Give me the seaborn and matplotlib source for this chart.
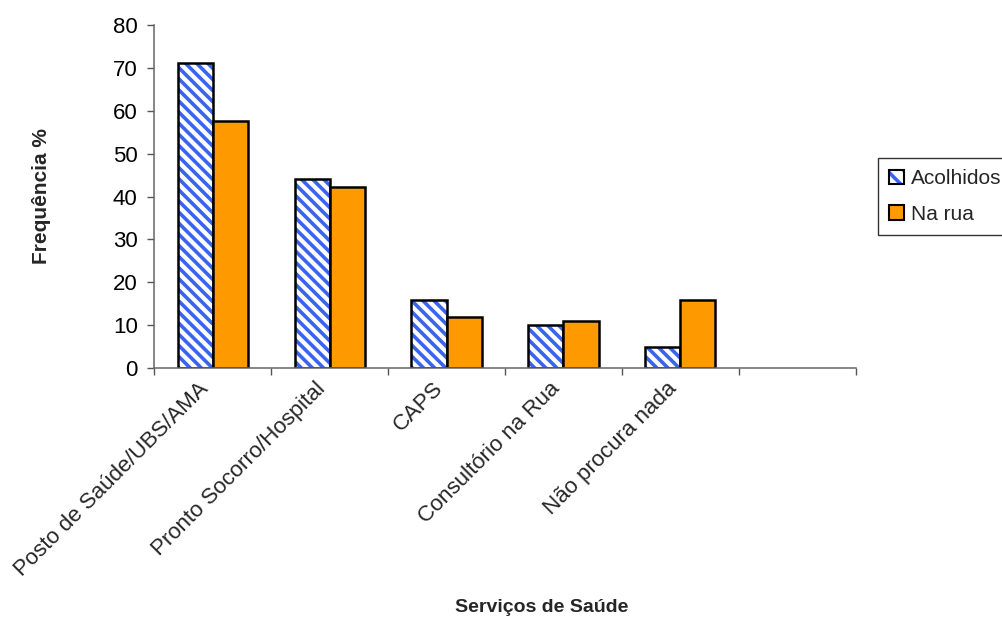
import matplotlib
matplotlib.use("Agg")
import matplotlib.pyplot as plt
from matplotlib.patches import Patch
from matplotlib.ticker import FixedLocator, NullFormatter
from matplotlib.transforms import ScaledTranslation
import seaborn as sns
import pandas as pd
import numpy as np

categories = ["Posto de Saúde/UBS/AMA", "Pronto Socorro/Hospital", "CAPS",
              "Consultório na Rua", "Não procura nada"]
acolhidos = [71, 44, 16, 10, 5]
na_rua = [57.6, 42.2, 12, 11, 16]
series_names = ["Acolhidos", "Na rua"]

df = pd.DataFrame({
    "cat": categories * 2,
    "val": acolhidos + na_rua,
    "grupo": [series_names[0]] * len(categories) + [series_names[1]] * len(categories),
})

sns.set_theme(style="white")
plt.rcParams["font.family"] = ["Liberation Sans", "DejaVu Sans"]
plt.rcParams["hatch.linewidth"] = 2.6

BLUE = "#3a64f0"
ORANGE = "#ff9900"


def paint_hatch(patch):
    if hasattr(patch, "set_hatchcolor"):
        patch.set_hatchcolor(BLUE)
    else:
        patch._hatch_color = matplotlib.colors.to_rgba(BLUE)


fig = plt.figure(figsize=(10.02, 6.21), dpi=100)
ax = fig.add_axes([0.154, 0.407, 0.700, 0.553])

sns.barplot(data=df, x="cat", y="val", hue="grupo", order=categories,
            hue_order=series_names, palette=["white", ORANGE], width=0.6,
            edgecolor="black", linewidth=1.8, saturation=1, legend=False, ax=ax)

n = len(categories)
for p in ax.patches[:n]:
    p.set_facecolor("white")
    p.set_hatch("\\\\\\")
    paint_hatch(p)

ax.set_xlim(-0.5, n + 0.5)
ax.set_ylim(0, 80)
ax.set_yticks(np.arange(0, 81, 10))
ax.tick_params(axis="y", labelsize=16, length=5, width=1, color="#555555",
               direction="out", left=True, pad=7, labelcolor="black")

ax.set_xticks(range(n))
ax.set_xticklabels(categories, rotation=45, ha="right", rotation_mode="anchor",
                   fontsize=16)
ax.tick_params(axis="x", which="major", length=0, pad=9)
# nudge the rotated labels so their ends sit just under each category
shift = ScaledTranslation(-0.145, 0.026, fig.dpi_scale_trans)
for lbl in ax.get_xticklabels():
    lbl.set_transform(lbl.get_transform() + shift)
ax.xaxis.set_minor_locator(FixedLocator(np.arange(-0.5, n + 1, 1)))
ax.xaxis.set_minor_formatter(NullFormatter())
ax.tick_params(axis="x", which="minor", length=5, width=1, color="#555555",
               direction="out", bottom=True)

for s in ["top", "right"]:
    ax.spines[s].set_visible(False)
for s in ["left", "bottom"]:
    ax.spines[s].set_color("#666666")
    ax.spines[s].set_linewidth(1.1)

ax.set_ylabel("Frequência %", fontsize=15, fontweight="bold")
ax.yaxis.set_label_coords(-0.148, 0.5)
ax.set_xlabel("")
fig.text(0.541, 0.0225, "Serviços de Saúde", fontsize=14, fontweight="bold",
         ha="center", va="center")

handles = [
    Patch(facecolor="white", edgecolor="black", hatch="\\\\", linewidth=1.5),
    Patch(facecolor=ORANGE, edgecolor="black", linewidth=1.5),
]
leg = fig.legend(handles, series_names, loc="upper left",
                 bbox_to_anchor=(0.876, 0.746), fontsize=15, frameon=True,
                 fancybox=False, edgecolor="black", handlelength=0.7,
                 handleheight=0.7, handletextpad=0.35, borderpad=0.55,
                 labelspacing=0.8, borderaxespad=0)
leg.get_frame().set_linewidth(1.0)
paint_hatch(leg.legend_handles[0])

fig.savefig("out.png", dpi=100, facecolor="white")
